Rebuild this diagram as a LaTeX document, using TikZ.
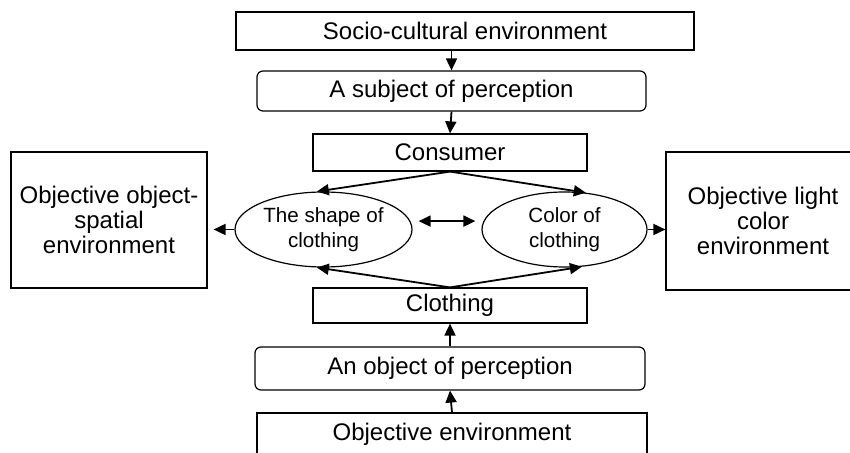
\documentclass[tikz,border=0pt]{standalone}
\usepackage{fontspec}
\setmainfont{Liberation Sans}
\usetikzlibrary{arrows.meta,shapes.geometric}

\begin{document}
\begin{tikzpicture}[
  x=0.5pt,y=-0.5pt,
  every node/.style={inner sep=1.5pt},
  box/.style={draw=black,line width=0.6pt,font=\fontsize{12}{12.5}\selectfont,align=center,inner sep=0pt},
  rbox/.style={box,rounded corners=3pt},
  oval/.style={ellipse,draw=black,line width=0.6pt,font=\fontsize{10.3}{12.5}\selectfont,align=center,inner sep=0pt},
  arr/.style={-{Triangle[length=6pt,width=5.5pt]},line width=0.9pt},
  arrb/.style={{Triangle[length=6pt,width=5.5pt]}-{Triangle[length=6pt,width=5.5pt]},line width=0.9pt},
]
  \clip (0,0) rectangle (850,453);
  % ============ top chain ============
  \node[box,minimum width=229pt,minimum height=19pt] (socio) at (465,31) {Socio-cultural environment};
  \node[rbox,minimum width=194.5pt,minimum height=20pt] (subj) at (451.5,91) {A subject of perception};
  \node[box,minimum width=137pt,minimum height=18.5pt] (cons) at (450,152.5) {Consumer};
  \draw[arr] (socio.south -| subj.north) -- (subj.north);
  \draw[arr] (subj.south) -- (cons.north);
  % ============ middle row ============
  \node[oval,minimum width=88.5pt,minimum height=37.5pt] (lsh) at (323.5,229.5) {The shape of\\clothing};
  \node[oval,minimum width=82.5pt,minimum height=37.5pt] (rcol) at (564.5,229.5) {Color of\\clothing};
  \node[box,minimum width=98pt,minimum height=68pt] (lbox) at (109,220) {Objective object-\\spatial\\environment};
  \node[box,minimum width=97pt,minimum height=69pt] (rbox) at (763,221) {Objective light\\color\\environment};
  \draw[arr] (cons.south) -- (lsh.100);
  \draw[arr] (cons.south) -- (rcol.60);
  \draw[arrb] ([xshift=3pt,yshift=4.2pt]lsh.east) -- ([xshift=-3pt,yshift=4.2pt]rcol.west);
  \draw[arr,shorten >=3pt] (lsh.west) -- (lsh.west -| lbox.east);
  \draw[arr] (rcol.east) -- (rcol.east -| rbox.west);
  % ============ bottom chain ============
  \node[box,minimum width=137pt,minimum height=17.5pt] (cloth) at (450,305.5) {Clothing};
  \node[rbox,minimum width=195pt,minimum height=21.5pt] (obj) at (450,368.5) {An object of perception};
  \node[box,minimum width=195pt,minimum height=21pt] (env) at (452,434) {Objective environment};
  \draw[arr] (cloth.north) -- (lsh.260);
  \draw[arr] (cloth.north) -- (rcol.295);
  \draw[arr] (obj.north) -- (cloth.south);
  \draw[arr] (env.north) -- (obj.south);
\end{tikzpicture}
\end{document}
